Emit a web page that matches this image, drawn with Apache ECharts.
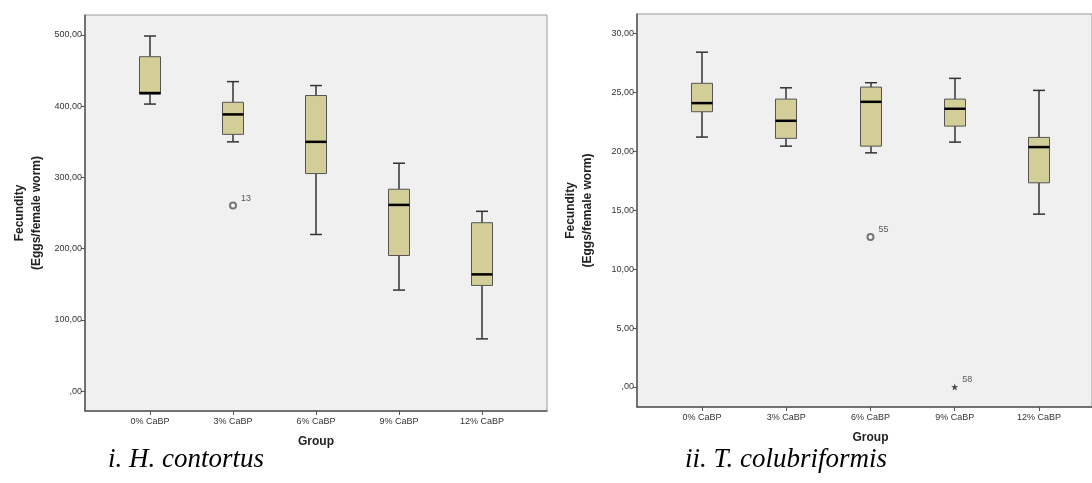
<!DOCTYPE html>
<html>
<head>
<meta charset="utf-8">
<script src="https://cdn.jsdelivr.net/npm/echarts@6/dist/echarts.min.js"></script>
<style>
  html, body { margin: 0; padding: 0; background: #fff; }
  #chart { width: 1092px; height: 483px; }
</style>
</head>
<body>
<div id="chart"></div>
<script>
// groups on the x axis
const groups = ['0% CaBP', '3% CaBP', '6% CaBP', '9% CaBP', '12% CaBP']

// H. contortus: [low whisker, Q1, median, Q3, high whisker]
const hcBoxes = [
  [403, 417, 418.5, 469.5, 498.5],
  [350, 360.5, 388.5, 405.5, 434.5],
  [220, 305.5, 350, 415, 429],
  [142, 190.5, 261.5, 283.5, 320],
  [73.5, 148.5, 164, 236.5, 252.5],
]
// outliers: [group index, value, case label]
const hcOutliers = [[1, 260.5, '13']]
const hcTicks = [0, 100, 200, 300, 400, 500]

// T. colubriformis
const tcBoxes = [
  [21.2, 23.35, 24.08, 25.76, 28.4],
  [20.43, 21.09, 22.58, 24.42, 25.38],
  [19.86, 20.43, 24.19, 25.44, 25.81],
  [20.77, 22.13, 23.6, 24.42, 26.18],
  [14.66, 17.32, 20.35, 21.17, 25.16],
]
const tcOutliers = [[2, 12.73, '55']]
const tcExtremes = [[3, 0, '58']]
const tcTicks = [0, 5, 10, 15, 20, 25, 30]

const FONT = '"Liberation Sans", Arial, sans-serif'
const starPath = 'path://M0,-10 L2.35,-3.24 L9.51,-3.09 L3.8,1.24 L5.88,8.09 L0,4 L-5.88,8.09 L-3.8,1.24 L-9.51,-3.09 L-2.35,-3.24 Z'

const fmtTick = (v) => (v === 0 ? '' : String(v)) + ',00'

const renderBox = (params, api) => {
  const i = api.value(0)
  const lo = api.coord([i, api.value(1)])
  const q1 = api.coord([i, api.value(2)])
  const md = api.coord([i, api.value(3)])
  const q3 = api.coord([i, api.value(4)])
  const hi = api.coord([i, api.value(5)])
  const cx = Math.round(lo[0])
  const bw = 21
  const cw = 12
  const wStyle = { stroke: '#333', lineWidth: 1.5 }
  return {
    type: 'group',
    children: [
      { type: 'line', shape: { x1: cx, y1: hi[1], x2: cx, y2: q3[1] }, style: wStyle },
      { type: 'line', shape: { x1: cx, y1: q1[1], x2: cx, y2: lo[1] }, style: wStyle },
      { type: 'line', shape: { x1: cx - cw / 2, y1: hi[1], x2: cx + cw / 2, y2: hi[1] }, style: wStyle },
      { type: 'line', shape: { x1: cx - cw / 2, y1: lo[1], x2: cx + cw / 2, y2: lo[1] }, style: wStyle },
      {
        type: 'rect',
        shape: { x: cx - bw / 2, y: q3[1], width: bw, height: q1[1] - q3[1] },
        style: { fill: '#d3ce97', stroke: '#555', lineWidth: 1 },
      },
      { type: 'line', shape: { x1: cx - bw / 2, y1: md[1], x2: cx + bw / 2, y2: md[1] }, style: { stroke: '#000', lineWidth: 2.5 } },
    ],
  }
}

const pointLabel = {
  show: true,
  formatter: (p) => p.value[2],
  position: 'right',
  offset: [-1, -7],
  fontSize: 9,
  fontFamily: FONT,
  color: '#333',
}

const panels = [
  { frame: { left: 85, top: 15, width: 462, height: 396 }, data: { left: 108.5, top: 15, width: 415, height: 396 }, min: -27.7, max: 528, ticks: hcTicks, nameGap: 40 },
  { frame: { left: 637, top: 14, width: 467, height: 393 }, data: { left: 660, top: 14, width: 421, height: 393 }, min: -1.7, max: 31.64, ticks: tcTicks, nameGap: 41 },
]

const grid = []
const xAxis = []
const yAxis = []
panels.forEach((p, k) => {
  grid.push({ ...p.frame, show: true, backgroundColor: '#f0f0f0', borderColor: '#999', borderWidth: 1 })
  grid.push({ ...p.data, show: false })
  xAxis.push({
    gridIndex: 2 * k, type: 'value', min: 0, max: 1,
    axisLine: { show: true, onZero: false, lineStyle: { color: '#555', width: 1.5 } },
    axisTick: { show: false }, axisLabel: { show: false }, splitLine: { show: false },
  })
  xAxis.push({
    gridIndex: 2 * k + 1, type: 'category', data: groups,
    name: 'Group', nameLocation: 'middle', nameGap: 25,
    nameTextStyle: { fontFamily: FONT, fontSize: 12, fontWeight: 'bold', color: '#222' },
    axisLine: { show: false, onZero: false },
    axisTick: { show: true, alignWithLabel: true, length: 4, lineStyle: { color: '#555' } },
    axisLabel: { fontFamily: FONT, fontSize: 9, color: '#333', margin: 6 },
    splitLine: { show: false },
  })
  yAxis.push({
    gridIndex: 2 * k, type: 'value', min: p.min, max: p.max,
    name: 'Fecundity\n(Eggs/female worm)', nameLocation: 'middle', nameGap: p.nameGap, nameRotate: 90,
    nameTextStyle: { fontFamily: FONT, fontSize: 12, fontWeight: 'bold', color: '#222', lineHeight: 17 },
    axisLine: { show: true, onZero: false, lineStyle: { color: '#555', width: 1.5 } },
    axisTick: { show: true, length: 4, customValues: p.ticks, lineStyle: { color: '#555' } },
    axisLabel: { customValues: p.ticks, formatter: fmtTick, fontFamily: FONT, fontSize: 9, color: '#333', margin: 3 },
    splitLine: { show: false },
  })
  yAxis.push({ gridIndex: 2 * k + 1, type: 'value', min: p.min, max: p.max, show: false })
})

const boxSeries = (boxes, k) => ({
  type: 'custom',
  xAxisIndex: 2 * k + 1,
  yAxisIndex: 2 * k + 1,
  renderItem: renderBox,
  encode: { x: 0, y: [1, 2, 3, 4, 5] },
  data: boxes.map((b, i) => [i, ...b]),
  silent: true,
})

const option = {
  animation: false,
  grid,
  xAxis,
  yAxis,
  series: [
    boxSeries(hcBoxes, 0),
    boxSeries(tcBoxes, 1),
    {
      type: 'scatter', xAxisIndex: 1, yAxisIndex: 1,
      symbol: 'emptyCircle', symbolSize: 6,
      itemStyle: { color: '#555', borderColor: '#555', borderWidth: 0.8 },
      label: pointLabel,
      data: hcOutliers,
    },
    {
      type: 'scatter', xAxisIndex: 3, yAxisIndex: 3,
      symbol: 'emptyCircle', symbolSize: 6,
      itemStyle: { color: '#555', borderColor: '#555', borderWidth: 0.8 },
      label: pointLabel,
      data: tcOutliers,
    },
    {
      type: 'scatter', xAxisIndex: 3, yAxisIndex: 3,
      symbol: starPath, symbolSize: 7,
      itemStyle: { color: '#222' },
      label: pointLabel,
      data: tcExtremes,
    },
  ],
  graphic: [
    { type: 'text', left: 108, top: 446, style: { text: 'i. H. contortus', font: 'italic 27px "Liberation Serif", "Times New Roman", serif', fill: '#000' } },
    { type: 'text', left: 685, top: 446, style: { text: 'ii. T. colubriformis', font: 'italic 27px "Liberation Serif", "Times New Roman", serif', fill: '#000' } },
  ],
}

const chart = echarts.init(document.getElementById('chart'))
chart.setOption(option)
</script>
</body>
</html>
